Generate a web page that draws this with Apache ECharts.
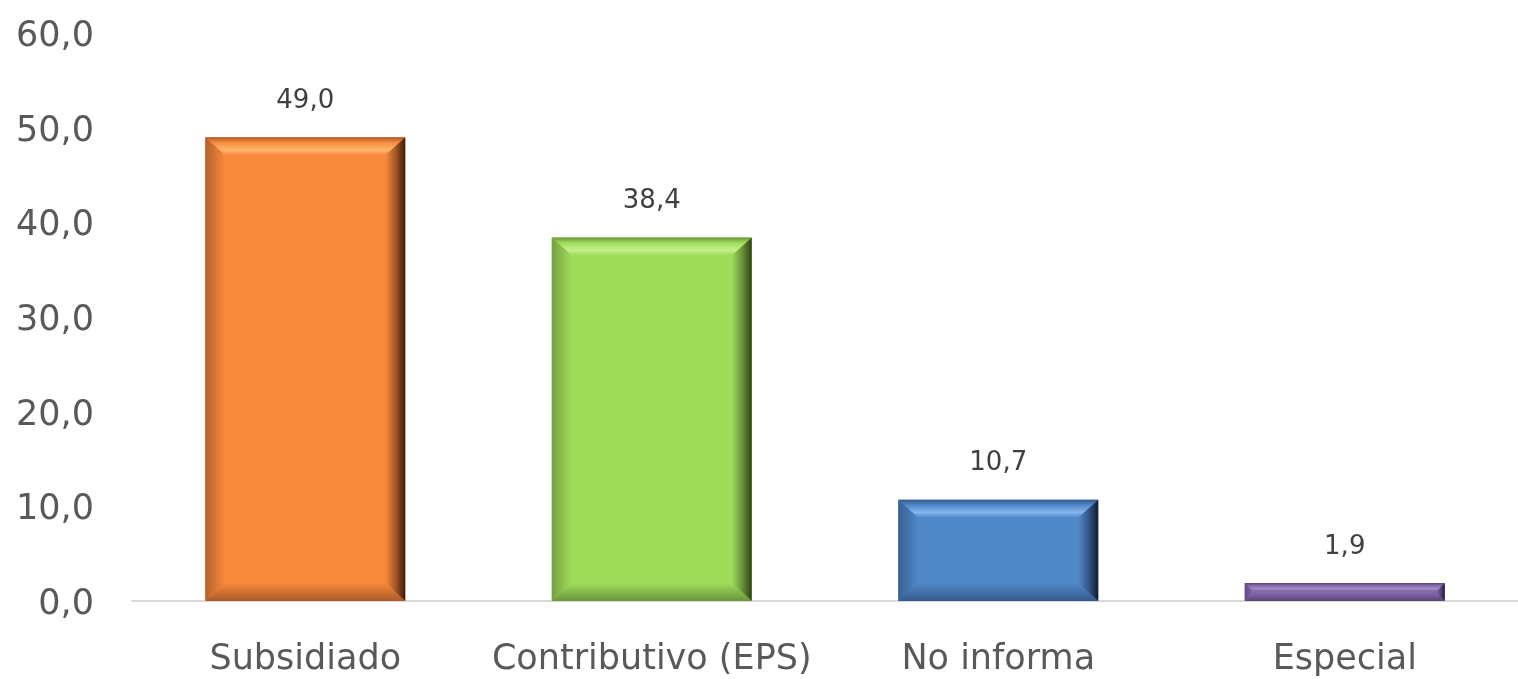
<!DOCTYPE html>
<html><head><meta charset="utf-8">
<script src="https://cdn.jsdelivr.net/npm/echarts@6/dist/echarts.min.js"></script>
<style>html,body{margin:0;padding:0;background:#fff;}#c{width:1518px;height:679px;}</style>
</head><body><div id="c"></div>
<script>
const categories = ['Subsidiado', 'Contributivo (EPS)', 'No informa', 'Especial'];
const values = [49.0, 38.4, 10.7, 1.9];
const baseColors = ['#F98A3B', '#9FDC5A', '#5088C8', '#8468A8'];
const lightColors = ['#FFB870', '#C4F08A', '#86B6EE', '#A48AC6'];
const darkColors = ['#3A1A06', '#2E4212', '#0E1C30', '#24183A'];
const midDark = ['#A9592A', '#6B953C', '#34598A', '#5A4578'];
const yTicks = [0, 10, 20, 30, 40, 50, 60];

const chart = echarts.init(document.getElementById('c'));
const fmt = v => v.toFixed(1).replace('.', ',');
const FONT = 'DejaVu Sans';

chart.setOption({
  animation: false,
  grid: { left: 132, right: 0, top: 33, bottom: 78 },
  xAxis: {
    type: 'category', data: categories,
    axisLine: { lineStyle: { color: '#D9D9D9', width: 2 } },
    axisTick: { show: false },
    axisLabel: { interval: 0, hideOverlap: false, fontFamily: FONT, fontSize: 35, color: '#595959', margin: 41 }
  },
  yAxis: {
    type: 'value', min: yTicks[0], max: yTicks[yTicks.length - 1], interval: 10,
    axisLine: { show: false }, axisTick: { show: false }, splitLine: { show: false },
    axisLabel: {
      fontFamily: FONT, fontSize: 35, color: '#595959', margin: 38,
      formatter: v => '{a|' + fmt(v) + '}',
      rich: { a: { fontFamily: FONT, fontSize: 35, color: '#595959', padding: [8, 0, 0, 0] } }
    }
  },
  series: [
    {
      type: 'bar', barWidth: 200,
      data: values.map((v, i) => ({ value: v, itemStyle: { color: baseColors[i] } })),
      label: { show: true, position: 'top', distance: 23, fontFamily: FONT, fontSize: 26, color: '#404040', formatter: p => fmt(p.value) }
    },
    {
      type: 'custom', z: 3, silent: true,
      data: values.map((v, i) => [i, v]),
      renderItem: function (params, api) {
        const i = api.value(0);
        const top = api.coord([i, api.value(1)]);
        const base = api.coord([i, 0]);
        const w = 200;
        const x0 = top[0] - w / 2, x1 = top[0] + w / 2;
        const y0 = top[1], y1 = base[1];
        const h = y1 - y0;
        const b = Math.min(20, h / 2.2);
        const t = Math.min(18, h / 2.2);
        const children = [
          { type: 'polygon', shape: { points: [[x0, y0], [x1, y0], [x1 - b, y0 + t], [x0 + b, y0 + t]] },
            style: { fill: new echarts.graphic.LinearGradient(0, 0, 0, 1, [
              { offset: 0, color: midDark[i] }, { offset: 0.3, color: baseColors[i] }, { offset: 0.7, color: lightColors[i] }, { offset: 1, color: baseColors[i] }]) } },
          { type: 'polygon', shape: { points: [[x0, y1], [x1, y1], [x1 - b, y1 - t], [x0 + b, y1 - t]] },
            style: { fill: new echarts.graphic.LinearGradient(0, 0, 0, 1, [
              { offset: 0, color: baseColors[i] }, { offset: 1, color: midDark[i] }]) } },
          { type: 'polygon', shape: { points: [[x0, y0], [x0 + b, y0 + t], [x0 + b, y1 - t], [x0, y1]] },
            style: { fill: new echarts.graphic.LinearGradient(0, 0, 1, 0, [
              { offset: 0, color: midDark[i] }, { offset: 1, color: baseColors[i] }]), opacity: 0.85 } },
          { type: 'polygon', shape: { points: [[x1, y0], [x1 - b, y0 + t], [x1 - b, y1 - t], [x1, y1]] },
            style: { fill: new echarts.graphic.LinearGradient(0, 0, 1, 0, [
              { offset: 0, color: baseColors[i] }, { offset: 0.5, color: midDark[i] }, { offset: 1, color: darkColors[i] }]) } }
        ];
        return { type: 'group', children: children };
      }
    }
  ]
});
</script></body></html>
